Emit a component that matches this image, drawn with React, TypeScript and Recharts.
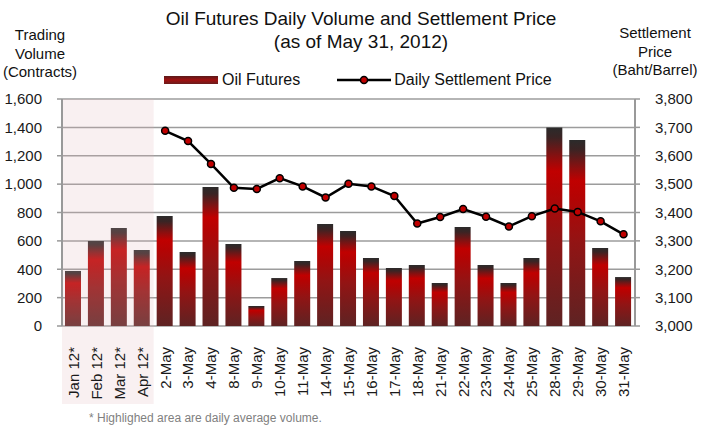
import React from 'react';
import {
  ComposedChart, Bar, Line, XAxis, YAxis, CartesianGrid, ReferenceArea,
} from 'recharts';

const categories = [
  'Jan 12*', 'Feb 12*', 'Mar 12*', 'Apr 12*',
  '2-May', '3-May', '4-May', '8-May', '9-May', '10-May', '11-May', '14-May',
  '15-May', '16-May', '17-May', '18-May', '21-May', '22-May', '23-May', '24-May',
  '25-May', '28-May', '29-May', '30-May', '31-May',
];
const volumes = [
  388, 600, 690, 535,
  775, 521, 980, 578, 141, 338, 458, 719,
  669, 479, 409, 430, 303, 698, 430, 303,
  479, 1400, 1311, 550, 345,
];
const prices: (number | null)[] = [
  null, null, null, null,
  3688, 3652, 3571, 3487, 3483, 3521, 3492, 3453,
  3501, 3492, 3458, 3361, 3384, 3412, 3385, 3351,
  3387, 3414, 3402, 3369, 3323,
];
const volumeTicks = [0, 200, 400, 600, 800, 1000, 1200, 1400, 1600];
const priceTicks = [3000, 3100, 3200, 3300, 3400, 3500, 3600, 3700, 3800];
const boundaryTicks = Array.from({ length: categories.length + 1 }, (_, i) => i);

const data = categories.map((c, i) => ({ cat: c, volume: volumes[i], price: prices[i] }));

const FONT = "'Liberation Sans', Arial, sans-serif";
const fmt = (v: number) => v.toLocaleString('en-US');

const XTick = (props: any) => {
  const { x, y, payload } = props;
  return (
    <g transform={`translate(${x},${y + 13}) rotate(-90)`}>
      <text textAnchor="end" dy="0.36em" fontSize={15} fill="#1a1a1a" fontFamily={FONT}>
        {payload.value}
      </text>
    </g>
  );
};

const HighlightShape = (props: any) => {
  const { x, y, width, height } = props;
  return (
    <rect x={x} y={y} width={width} height={height + 78} fill="rgb(226,182,186)" fillOpacity={0.2} />
  );
};

export default function App() {
  return (
    <div style={{ position: 'absolute', left: 0, top: 0, width: 703, height: 425, fontFamily: FONT, background: '#fff', overflow: 'hidden' }}>
      <ComposedChart
        width={703}
        height={425}
        data={data}
        margin={{ top: 99, right: 0, bottom: 0, left: 0 }}
        style={{ fontFamily: FONT }}
      >
        <defs>
          <linearGradient id="barGrad" x1="0" y1="0" x2="0" y2="1">
            <stop offset="0" stopColor="#2b2b2b" />
            <stop offset="0.05" stopColor="#3a2424" />
            <stop offset="0.15" stopColor="#8c0f0f" />
            <stop offset="0.22" stopColor="#c00000" />
            <stop offset="0.3" stopColor="#b50303" />
            <stop offset="0.55" stopColor="#921414" />
            <stop offset="1" stopColor="#5e2323" />
          </linearGradient>
        </defs>
        <CartesianGrid vertical={false} stroke="#9c9c9c" strokeWidth={1.5} yAxisId="left" />
        <XAxis
          xAxisId="bounds"
          type="number"
          domain={[0, categories.length]}
          ticks={boundaryTicks}
          allowDataOverflow
          height={0}
          tick={false}
          tickLine={{ stroke: '#999', strokeWidth: 1.5 }}
          tickSize={5}
          axisLine={{ stroke: '#999', strokeWidth: 2 }}
        />
        <XAxis
          xAxisId="cat"
          dataKey="cat"
          type="category"
          height={99}
          interval={0}
          tickLine={false}
          axisLine={false}
          tick={<XTick />}
        />
        <YAxis
          yAxisId="left"
          orientation="left"
          width={62}
          domain={[0, 1600]}
          ticks={volumeTicks}
          tickFormatter={fmt}
          tick={{ fontSize: 15, fill: '#1a1a1a', fontFamily: FONT }}
          tickLine={{ stroke: '#999', strokeWidth: 1.5 }}
          tickSize={5}
          tickMargin={15}
          axisLine={{ stroke: '#999', strokeWidth: 2 }}
        />
        <YAxis
          yAxisId="right"
          orientation="right"
          width={68}
          domain={[3000, 3800]}
          ticks={priceTicks}
          tickFormatter={fmt}
          tick={{ fontSize: 15, fill: '#1a1a1a', fontFamily: FONT, textAnchor: 'start' }}
          tickLine={{ stroke: '#999', strokeWidth: 1.5 }}
          tickSize={5}
          tickMargin={15}
          axisLine={{ stroke: '#999', strokeWidth: 2 }}
        />
        <Bar
          xAxisId="cat"
          yAxisId="left"
          dataKey="volume"
          fill="url(#barGrad)"
          barSize={16}
          isAnimationActive={false}
        />
        <ReferenceArea
          xAxisId="cat"
          yAxisId="left"
          x1="Jan 12*"
          x2="Apr 12*"
          ifOverflow="visible"
          shape={<HighlightShape />}
          zIndex={350}
        />
        <Line
          xAxisId="cat"
          yAxisId="right"
          dataKey="price"
          stroke="#000"
          strokeWidth={2.5}
          dot={{ r: 3.5, fill: '#c00000', stroke: '#000', strokeWidth: 1.5 }}
          isAnimationActive={false}
        />
      </ComposedChart>

      <div style={{ position: 'absolute', left: 0, top: 7, width: 722, textAlign: 'center', fontSize: 19, lineHeight: '23px', color: '#111' }}>
        Oil Futures Daily Volume and Settlement Price<br />(as of May 31, 2012)
      </div>
      <div style={{ position: 'absolute', left: 0, top: 26, width: 80, textAlign: 'center', fontSize: 15, lineHeight: '18.5px', color: '#111' }}>
        Trading<br />Volume<br />(Contracts)
      </div>
      <div style={{ position: 'absolute', left: 605, top: 24, width: 100, textAlign: 'center', fontSize: 15, lineHeight: '18.5px', color: '#111', whiteSpace: 'nowrap' }}>
        Settlement<br />Price<br />(Baht/Barrel)
      </div>

      <div style={{ position: 'absolute', left: 164, top: 70, height: 20, display: 'flex', alignItems: 'center', fontSize: 16, color: '#111' }}>
        <svg width={54} height={8} style={{ display: 'block' }}>
          <defs>
            <linearGradient id="legGrad" x1="0" y1="0" x2="0" y2="1">
              <stop offset="0" stopColor="#5a1a1a" />
              <stop offset="0.5" stopColor="#a01010" />
              <stop offset="1" stopColor="#6a1c1c" />
            </linearGradient>
          </defs>
          <rect x={0} y={0} width={54} height={8} fill="url(#legGrad)" />
        </svg>
        <span style={{ marginLeft: 4 }}>Oil Futures</span>
        <svg width={54} height={10} style={{ display: 'block', marginLeft: 37 }}>
          <line x1={0} y1={5} x2={54} y2={5} stroke="#000" strokeWidth={2.5} />
          <circle cx={27} cy={5} r={3.5} fill="#c00000" stroke="#000" strokeWidth={1.5} />
        </svg>
        <span style={{ marginLeft: 3 }}>Daily Settlement Price</span>
      </div>

      <div style={{ position: 'absolute', left: 89, top: 411, fontSize: 12, lineHeight: '14px', color: '#7f7f7f' }}>
        * Highlighed area are daily average volume.
      </div>
    </div>
  );
}
